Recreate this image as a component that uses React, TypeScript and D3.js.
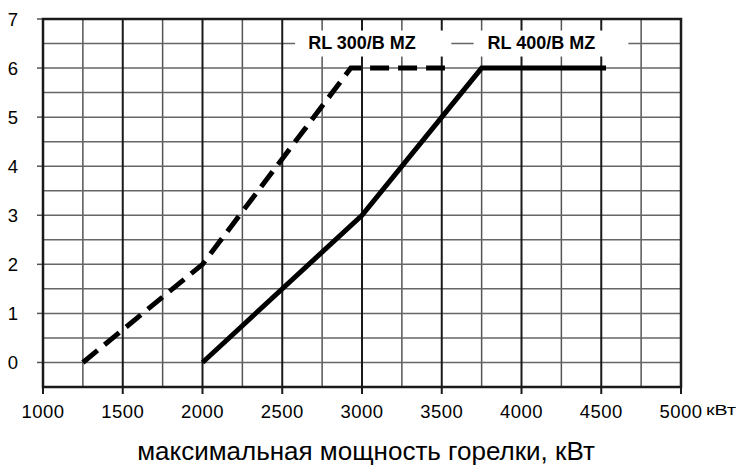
import { useEffect, useRef } from "react";
import * as d3 from "d3";

const xTicks = [1000, 1500, 2000, 2500, 3000, 3500, 4000, 4500, 5000];
const yTicks = [0, 1, 2, 3, 4, 5, 6, 7];

const rl300 = [
  { kw: 1250, v: 0 },
  { kw: 2000, v: 2 },
  { kw: 2930, v: 6 },
  { kw: 3520, v: 6 },
];
const rl400 = [
  { kw: 2000, v: 0 },
  { kw: 3000, v: 3 },
  { kw: 3500, v: 5 },
  { kw: 3750, v: 6 },
  { kw: 4530, v: 6 },
];

const labels = [
  { text: "RL 300/B MZ", kw: 3000, v: 6.5, from: 2580, to: 3560 },
  { text: "RL 400/B MZ", kw: 4125, v: 6.5, from: 3700, to: 4670 },
];

const unit = "кВт";
const xTitle = "максимальная мощность горелки, кВт";

export default function App() {
  const svgRef = useRef(null);

  useEffect(() => {
    const width = 738;
    const height = 465;
    const svg = d3.select(svgRef.current);
    svg.selectAll("*").remove();

    const x = d3.scaleLinear().domain([1000, 5000]).range([43, 681]);
    const y = d3.scaleLinear().domain([-0.5, 7]).range([387, 19]);

    const font = "'Liberation Sans', Arial, sans-serif";

    // vertical grid, minor lines every 250
    const vMinor = d3.range(1250, 5000, 500);
    svg
      .selectAll(".vminor")
      .data(vMinor)
      .enter()
      .append("line")
      .attr("x1", (d) => x(d))
      .attr("x2", (d) => x(d))
      .attr("y1", y(7))
      .attr("y2", y(-0.5))
      .attr("stroke", "#555")
      .attr("stroke-width", 1.5);

    // horizontal grid every 0.5
    const hLines = d3.range(-0.5, 7.01, 0.5).slice(1, -1);
    svg
      .selectAll(".hgrid")
      .data(hLines)
      .enter()
      .append("line")
      .attr("x1", x(1000))
      .attr("x2", x(5000))
      .attr("y1", (d) => y(d))
      .attr("y2", (d) => y(d))
      .attr("stroke", "#666")
      .attr("stroke-width", 1.5);

    svg
      .selectAll(".vmajor")
      .data(xTicks)
      .enter()
      .append("line")
      .attr("x1", (d) => x(d))
      .attr("x2", (d) => x(d))
      .attr("y1", y(7))
      .attr("y2", y(-0.5) + 7)
      .attr("stroke", "#1a1a1a")
      .attr("stroke-width", 2);

    // y ticks
    svg
      .selectAll(".ytick")
      .data(yTicks)
      .enter()
      .append("line")
      .attr("x1", x(1000) - 6)
      .attr("x2", x(1000))
      .attr("y1", (d) => y(d))
      .attr("y2", (d) => y(d))
      .attr("stroke", "#555")
      .attr("stroke-width", 1.5);

    // frame
    svg
      .append("path")
      .attr("d", `M${x(1000)},${y(7)}H${x(5000)}V${y(-0.5)}H${x(1000)}Z`)
      .attr("fill", "none")
      .attr("stroke", "#1a1a1a")
      .attr("stroke-width", 2.5);

    // white boxes behind the series labels
    const lab = svg.selectAll(".lab").data(labels).enter().append("g");
    lab
      .append("rect")
      .attr("x", (d) => x(d.from))
      .attr("width", (d) => x(d.to) - x(d.from))
      .attr("y", (d) => y(d.v) - 13)
      .attr("height", 26)
      .attr("fill", "#fff");

    const line = d3
      .line<{ kw: number; v: number }>()
      .x((d) => x(d.kw))
      .y((d) => y(d.v));

    svg
      .append("path")
      .attr("d", line(rl300))
      .attr("fill", "none")
      .attr("stroke", "#000")
      .attr("stroke-width", 5)
      .attr("stroke-dasharray", "19,9");

    svg
      .append("path")
      .attr("d", line(rl400))
      .attr("fill", "none")
      .attr("stroke", "#000")
      .attr("stroke-width", 5);

    lab
      .append("text")
      .attr("x", (d) => x(d.kw))
      .attr("y", (d) => y(d.v) + 5.5)
      .attr("text-anchor", "middle")
      .attr("font-family", font)
      .attr("font-weight", "bold")
      .attr("font-size", 18)
      .text((d) => d.text);

    // tick labels
    svg
      .selectAll(".xl")
      .data(xTicks)
      .enter()
      .append("text")
      .attr("x", (d) => x(d))
      .attr("y", 418)
      .attr("text-anchor", "middle")
      .attr("font-family", font)
      .attr("font-size", 18.5)
      .attr("letter-spacing", 0.5)
      .text((d) => d);

    svg
      .selectAll(".yl")
      .data(yTicks)
      .enter()
      .append("text")
      .attr("x", 13)
      .attr("y", (d) => y(d) + 6.5)
      .attr("text-anchor", "middle")
      .attr("font-family", font)
      .attr("font-size", 18.5)
      .text((d) => d);

    svg
      .append("text")
      .attr("x", x(5000) + 25)
      .attr("y", 415)
      .attr("font-family", font)
      .attr("font-size", 15)
      .attr("textLength", 30)
      .attr("lengthAdjust", "spacingAndGlyphs")
      .text(unit);

    svg
      .append("text")
      .attr("x", 366)
      .attr("y", 460)
      .attr("text-anchor", "middle")
      .attr("font-family", font)
      .attr("font-size", 26)
      .text(xTitle);

    svg.attr("width", width).attr("height", height);
  }, []);

  return (
    <svg
      ref={svgRef}
      width={738}
      height={465}
      style={{ position: "absolute", left: 0, top: 0, background: "#fff" }}
    />
  );
}
